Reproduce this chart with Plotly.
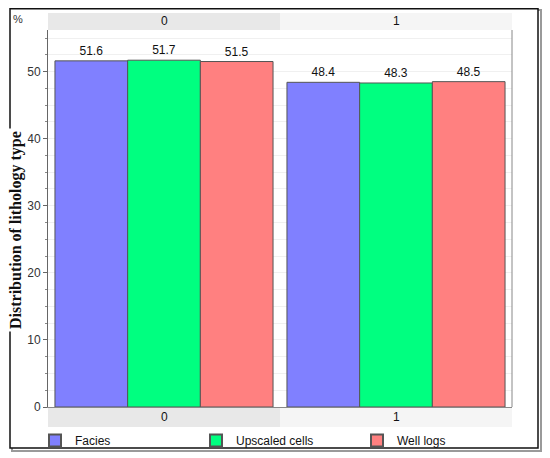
import plotly.graph_objects as go

categories = ["0", "1"]
series_names = ["Facies", "Upscaled cells", "Well logs"]
facies = [51.6, 48.4]
upscaled = [51.7, 48.3]
well_logs = [51.5, 48.5]
colors = ["#8080ff", "#00ff80", "#ff8080"]
y_ticks = [0, 10, 20, 30, 40, 50]

# page is rendered with an 8px body margin, so size the figure accordingly
OFF = 8
W, H = 550 - OFF, 458 - OFF
plot_left, plot_right, plot_top, plot_bottom = 48, 512, 30, 407  # page pixels
ml = plot_left - OFF
mt = plot_top - OFF
mr = W - (plot_right - OFF)
mb = H - (plot_bottom - OFF)
pw = W - ml - mr
ph = H - mt - mb

def px(xp):
    return (xp - OFF - ml) / pw

def py(yp):
    return (H - mb - (yp - OFF)) / ph

FONT = "Liberation Sans, Arial"

fig = go.Figure()
for name, vals, col in zip(series_names, [facies, upscaled, well_logs], colors):
    fig.add_trace(go.Bar(
        x=categories, y=vals, name=name,
        marker=dict(color=col, line=dict(color="#555555", width=1)),
        text=[f"{v:.1f}" for v in vals], textposition="outside",
        textfont=dict(family=FONT, size=12, color="#111111"),
        cliponaxis=False,
    ))

shapes = []
# outer border shadow and border
shapes.append(dict(type="rect", xref="paper", yref="paper",
                   x0=px(12), x1=px(541), y0=py(451), y1=py(10),
                   line=dict(color="#9a9a9a", width=2), layer="below"))
shapes.append(dict(type="rect", xref="paper", yref="paper",
                   x0=px(10), x1=px(538), y0=py(448), y1=py(8.8),
                   fillcolor="white", line=dict(color="#111111", width=1.5), layer="below"))
# top strips
shapes.append(dict(type="rect", xref="x", yref="paper", x0=-0.5, x1=0.5,
                   y0=1.0, y1=py(13), fillcolor="#e8e8e8", line=dict(width=0), layer="below"))
shapes.append(dict(type="rect", xref="x", yref="paper", x0=0.5, x1=1.5,
                   y0=1.0, y1=py(13), fillcolor="#f5f5f5", line=dict(width=0), layer="below"))
# bottom strips
shapes.append(dict(type="rect", xref="x", yref="paper", x0=-0.5, x1=0.5,
                   y0=py(427), y1=0.0, fillcolor="#e8e8e8", line=dict(width=0), layer="below"))
shapes.append(dict(type="rect", xref="x", yref="paper", x0=0.5, x1=1.5,
                   y0=py(427), y1=0.0, fillcolor="#f5f5f5", line=dict(width=0), layer="below"))
# right plot edge line
shapes.append(dict(type="line", xref="paper", yref="paper", x0=1, x1=1, y0=0, y1=1,
                   line=dict(color="#888888", width=1)))

annotations = []
for c in categories:
    annotations.append(dict(x=c, y=py(21.5), xref="x", yref="paper", text=c, showarrow=False,
                            xanchor="center", yanchor="middle",
                            font=dict(family=FONT, size=12, color="#111111")))
    annotations.append(dict(x=c, y=py(417), xref="x", yref="paper", text=c, showarrow=False,
                            xanchor="center", yanchor="middle",
                            font=dict(family=FONT, size=12, color="#111111")))
annotations.append(dict(x=px(18), y=py(19), xref="paper", yref="paper", text="%", showarrow=False,
                        xanchor="center", yanchor="middle",
                        font=dict(family=FONT, size=11, color="#333333")))
annotations.append(dict(x=px(16), y=py(230), xref="paper", yref="paper",
                        text="<b>Distribution of lithology type</b>", textangle=-90, showarrow=False,
                        xanchor="center", yanchor="middle",
                        bgcolor="white", borderpad=2,
                        font=dict(family="Liberation Serif, serif", size=16, color="#111111")))

fig.update_layout(
    width=W, height=H,
    margin=dict(l=ml, r=mr, t=mt, b=mb, autoexpand=False),
    paper_bgcolor="white", plot_bgcolor="white",
    barmode="group", bargap=0.06, bargroupgap=0,
    showlegend=True,
    legend=dict(orientation="h", x=px(35), y=py(426), xanchor="left", yanchor="top",
                entrywidth=116, entrywidthmode="pixels",
                font=dict(family=FONT, size=12, color="#111111"),
                itemsizing="constant", traceorder="normal", bgcolor="rgba(0,0,0,0)"),
    shapes=shapes, annotations=annotations,
    xaxis=dict(type="category", range=[-0.5, 1.5], showticklabels=False, ticks="",
               showgrid=False, showline=True, linecolor="#888888", zeroline=False),
    yaxis=dict(range=[0, 56.2], tickvals=y_ticks, ticks="outside", ticklen=4, tickcolor="#666666",
               showline=True, linecolor="#666666",
               tickfont=dict(family=FONT, size=12, color="#333333"),
               showgrid=False, zeroline=False,
               minor=dict(dtick=2.5, tick0=0, ticks="outside", ticklen=2, tickcolor="#888888",
                          showgrid=True, gridcolor="#f0f0f0", gridwidth=1)),
)

fig.write_html("out.html")
